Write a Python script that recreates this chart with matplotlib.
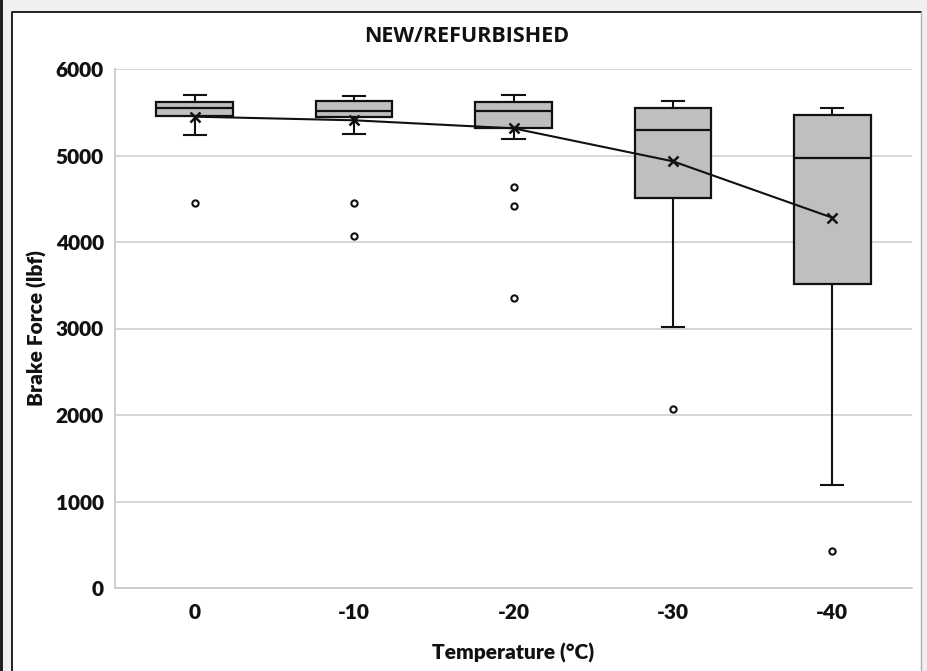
import matplotlib
matplotlib.use("Agg")
import matplotlib.pyplot as plt
from matplotlib.patches import Rectangle
from matplotlib.lines import Line2D

categories = ["0", "-10", "-20", "-30", "-40"]
whisker_low = [5240, 5249, 5194, 3017, 1187]
q1 = [5460, 5445, 5318, 4509, 3518]
median = [5549, 5514, 5514, 5295, 4967]
q3 = [5622, 5626, 5618, 5553, 5472]
whisker_high = [5703, 5688, 5696, 5634, 5549]
means = [5449, 5407, 5314, 4933, 4281]
outliers = [[4454], [4454, 4066], [4636, 4420, 3349], [2073], [428]]

FONT = ["Lato", "DejaVu Sans"]
plt.rcParams['font.family'] = FONT

fig = plt.figure(figsize=(9.28, 6.71), dpi=100)
fig.patch.set_facecolor("#f0f0f0")
W, H = 928, 671
# left dark strip and white chart panel
fig.patches.append(Rectangle((0, 0), 3 / W, 1, transform=fig.transFigure,
                             facecolor="#222222", edgecolor="none", zorder=-10))
fig.patches.append(Rectangle((12 / W, -0.01), (921 - 12) / W, (H - 12) / H + 0.01,
                             transform=fig.transFigure, facecolor="white",
                             edgecolor="none", zorder=-9))
fig.lines.append(Line2D([12 / W, 12 / W, 921 / W], [0, 1 - 12 / H, 1 - 12 / H],
                        transform=fig.transFigure, color="#111111", linewidth=1.3, zorder=-8))
fig.lines.append(Line2D([921 / W, 921 / W], [0, 1 - 12 / H],
                        transform=fig.transFigure, color="#b0b0b0", linewidth=1.0, zorder=-8))

ax = fig.add_axes([115 / W, (H - 588) / H, 797 / W, 519 / H])
ax.set_zorder(2)
ax.set_facecolor("none")

stats = []
for i in range(len(categories)):
    stats.append(dict(med=median[i], q1=q1[i], q3=q3[i],
                      whislo=whisker_low[i], whishi=whisker_high[i],
                      fliers=outliers[i], label=categories[i]))
pos = list(range(len(categories)))
ax.bxp(stats, positions=pos, widths=0.48, patch_artist=True, showfliers=True,
       boxprops=dict(facecolor="#bfbfbf", edgecolor="#111111", linewidth=1.6),
       medianprops=dict(color="#111111", linewidth=1.6),
       whiskerprops=dict(color="#111111", linewidth=1.5),
       capprops=dict(color="#111111", linewidth=1.5),
       capwidths=0.14,
       flierprops=dict(marker="o", markersize=4.5, markerfacecolor="white",
                       markeredgecolor="#111111", markeredgewidth=1.5),
       zorder=3)
ax.plot(pos, means, color="#111111", linewidth=1.5, marker="x", markersize=7,
        markeredgewidth=1.8, zorder=4)

ax.set_xlim(-0.5, len(categories) - 0.5)
ax.set_ylim(0, 6000)
ax.set_yticks(range(0, 6001, 1000))
ax.set_xticks(pos)
ax.set_xticklabels(categories)
ax.grid(axis="y", color="#d0d0d0", linewidth=1.2, zorder=0)
ax.set_axisbelow(True)
for s in ["top", "right"]:
    ax.spines[s].set_visible(False)
ax.spines["left"].set_color("#c8c8c8")
ax.spines["bottom"].set_color("#c8c8c8")
ax.spines["left"].set_linewidth(1.2)
ax.spines["bottom"].set_linewidth(1.2)
ax.tick_params(axis="both", length=0, labelsize=15, colors="#111111")
ax.tick_params(axis="y", pad=8)
ax.tick_params(axis="x", pad=11)
for lab in ax.get_xticklabels() + ax.get_yticklabels():
    lab.set_fontweight("heavy")

ax.set_xlabel("Temperature (°C)", fontsize=15, fontweight="heavy", labelpad=15, color="#111111")
ax.set_ylabel("Brake Force (lbf)", fontsize=15, fontweight="heavy", labelpad=6, color="#111111")
fig.text(0.5 * (12 + 921) / W, 1 - 36 / H, "NEW/REFURBISHED", ha="center", va="center",
         fontsize=15.5, fontweight="bold", color="#111111", family=["Open Sans", "DejaVu Sans"])

fig.savefig("out.png", dpi=100, facecolor=fig.get_facecolor())
